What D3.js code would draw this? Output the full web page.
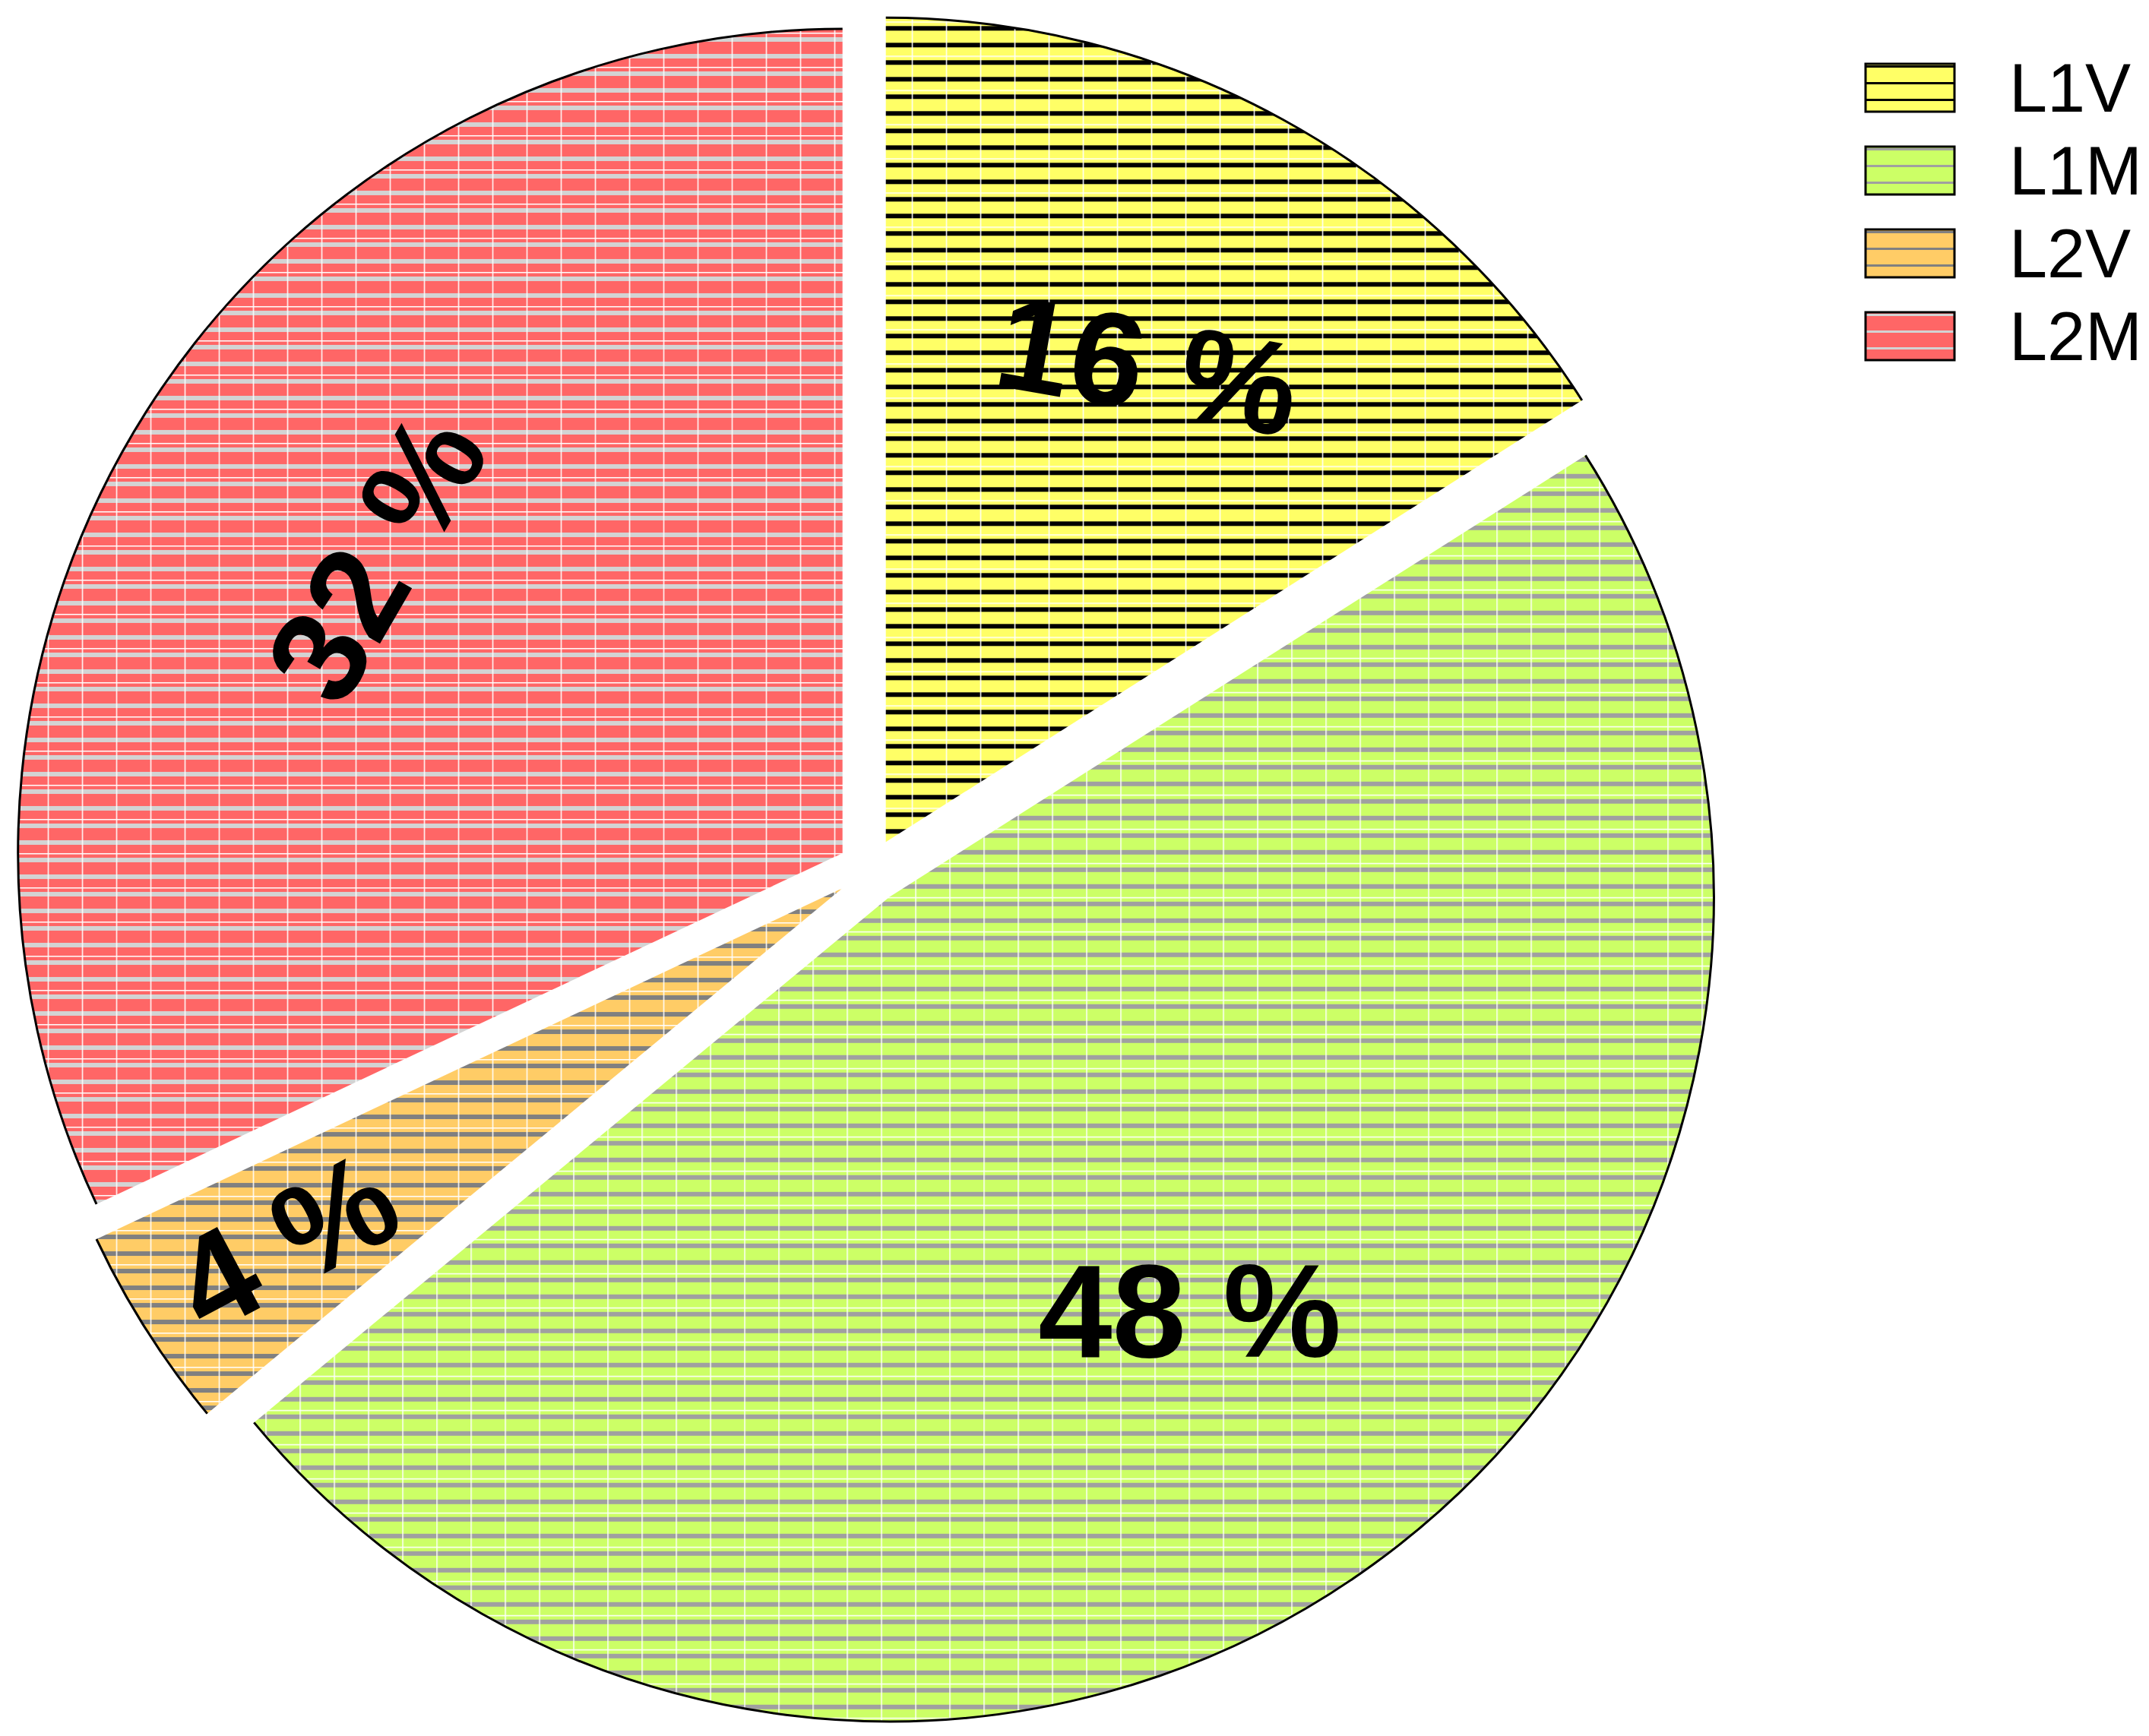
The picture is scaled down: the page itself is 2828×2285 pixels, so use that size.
<!DOCTYPE html>
<html>
<head>
<meta charset="utf-8">
<script src="https://cdn.jsdelivr.net/npm/d3@7"></script>
<style>
  body { margin: 0; background: #fff; }
  svg { display: block; }
</style>
</head>
<body>
<script>
// chart data
var categories = ["L1V", "L1M", "L2V", "L2M"];
var shares = [16, 48, 4, 32];
var labels = ["16 %", "48 %", "4 %", "32 %"];
var fills = ["#ffff66", "#ccff66", "#ffcc66", "#ff6666"];
var stripes = ["#000000", "#a0a0a0", "#808080", "#d3d3d3"];
var labelAngles = [10, 0, -28, -60];

var W = 2828, H = 2285;
var cx = 1145, cy = 1146, R = 1085, explode = 43;

var svg = d3.select("body").append("svg").attr("width", W).attr("height", H);
var defs = svg.append("defs");

// striped pattern per slice, with thin white grid
categories.forEach(function(c, i) {
  var p = defs.append("pattern").attr("id", "pat" + i)
    .attr("patternUnits", "userSpaceOnUse").attr("width", 45).attr("height", 45)
    .attr("x", 34).attr("y", 0);
  p.append("rect").attr("width", 45).attr("height", 45).attr("fill", fills[i]);
  p.append("rect").attr("y", 6).attr("width", 45).attr("height", 6).attr("fill", stripes[i]);
  p.append("rect").attr("y", 28).attr("width", 45).attr("height", 6).attr("fill", stripes[i]);
  p.append("rect").attr("y", 0).attr("width", 45).attr("height", 1.5).attr("fill", "#fff");
  p.append("rect").attr("x", 0).attr("width", 1.5).attr("height", 45).attr("fill", "#fff");

  var lp = defs.append("pattern").attr("id", "leg" + i)
    .attr("patternUnits", "userSpaceOnUse").attr("width", 120).attr("height", 22)
    .attr("y", 2);
  lp.append("rect").attr("width", 120).attr("height", 22).attr("fill", fills[i]);
  lp.append("rect").attr("y", 0).attr("width", 120).attr("height", 3).attr("fill", stripes[i]);
});

var pie = d3.pie().sort(null).value(function(d) { return d; });
var arcs = pie(shares);
var arcFill = d3.arc().innerRadius(0).outerRadius(R);
var arcEdge = d3.arc().innerRadius(R).outerRadius(R);
var arcLabel = d3.arc().innerRadius(0).outerRadius(R);

var slices = svg.selectAll("g.slice").data(arcs).enter().append("g")
  .attr("class", "slice")
  .attr("transform", function(d) {
    var a = (d.startAngle + d.endAngle) / 2;
    return "translate(" + (cx + explode * Math.sin(a)) + "," + (cy - explode * Math.cos(a)) + ")";
  });

slices.append("path").attr("d", arcFill)
  .attr("fill", function(d, i) { return "url(#pat" + i + ")"; });
slices.append("path").attr("d", arcEdge)
  .attr("fill", "none").attr("stroke", "#000").attr("stroke-width", 3);

// label positions (relative to slice centroid at a chosen radius)
var labelRadius = [0.66, 0.62, 0.8, 0.67];
slices.append("text")
  .attr("transform", function(d, i) {
    var a = (d.startAngle + d.endAngle) / 2;
    var r = R * labelRadius[i];
    return "translate(" + (r * Math.sin(a)) + "," + (-r * Math.cos(a)) + ") rotate(" + labelAngles[i] + ")";
  })
  .attr("text-anchor", "middle").attr("dy", "0.35em")
  .style("font-family", "'Liberation Sans', Arial, sans-serif")
  .style("font-weight", "bold").style("font-size", "175px")
  .text(function(d, i) { return labels[i]; });

// legend
var legend = svg.selectAll("g.leg").data(categories).enter().append("g")
  .attr("class", "leg")
  .attr("transform", function(d, i) { return "translate(2455," + (84 + i * 109) + ")"; });
legend.append("rect").attr("width", 117).attr("height", 63)
  .attr("fill", function(d, i) { return "url(#leg" + i + ")"; })
  .attr("stroke", "#000").attr("stroke-width", 3);
legend.append("text").attr("x", 189).attr("y", 63)
  .style("font-family", "'Liberation Sans', Arial, sans-serif")
  .style("font-size", "90px")
  .text(function(d) { return d; });
</script>
</body>
</html>
